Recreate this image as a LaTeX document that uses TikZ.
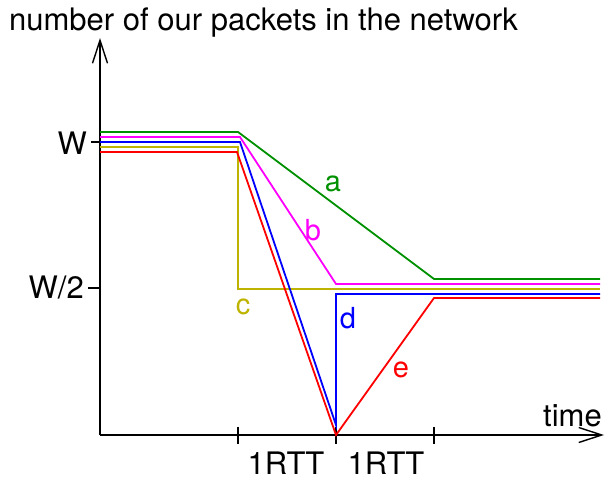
\documentclass[tikz,border=0pt]{standalone}
\usepackage{fontspec}
\setmainfont{TeX Gyre Heros}
\usetikzlibrary{arrows.meta}
\definecolor{cgreen}{RGB}{0,145,0}
\definecolor{cmag}{RGB}{255,0,255}
\definecolor{cblue}{RGB}{0,0,255}
\definecolor{colive}{RGB}{190,180,0}
\definecolor{cred}{RGB}{255,0,0}
\tikzset{
  axis/.style={draw=black, line width=1.4pt, -{Straight Barb[length=23pt,width=15pt,line width=1.4pt]}},
  tickline/.style={draw=black, line width=1.4pt},
  curve/.style={line width=1.8pt, line join=miter},
  lbl/.style={inner sep=0pt, font=\fontsize{31}{36}\selectfont},
  letter/.style={inner sep=0pt, font=\fontsize{29}{34}\selectfont},
}
\begin{document}
\begin{tikzpicture}[x=1pt,y=-1pt]
\useasboundingbox (0,0) rectangle (606,481);
% axes
\coordinate (O) at (100,435);
\coordinate (ytop) at (100,38);
\coordinate (xend) at (604,435);
\draw[axis] (O) -- (ytop);
\draw[axis] (O) -- (xend);
% ticks
\draw[tickline] (91,142) -- (110,142);
\draw[tickline] (88,288) -- (100,288);
\draw[tickline] (238,427) -- (238,444);
\draw[tickline] (336,427) -- (336,444);
\draw[tickline] (434,427) -- (434,444);
% curves
\draw[curve, cgreen] (100,132) -- (238,132) -- (434,279) -- (600,279);
\draw[curve, cmag] (100,137) -- (240,137) -- (336,284) -- (600,284);
\draw[curve, colive] (100,147) -- (238,147) -- (238,289) -- (600,289);
\draw[curve, cblue] (100,142) -- (240,142) -- (336,425) -- (336,294) -- (600,294);
\draw[curve, cred] (100,152) -- (237,152) -- (336,435) -- (434,298) -- (600,298);
% texts
\node[lbl, anchor=base west] (title) at (9,31) {number of our packets in the network};
\node[lbl, anchor=east] (W) at (87,143) {W};
\node[lbl, anchor=east] (W2) at (84,288) {W/2};
\node[lbl, anchor=base east] (time) at (602,427) {time};
\node[lbl, anchor=base] (rtt1) at (286,475) {1RTT};
\node[lbl, anchor=base] (rtt2) at (386,475) {1RTT};
\node[letter, anchor=base, text=cgreen] (la) at (333,192) {a};
\node[letter, anchor=base, text=cmag] (lb) at (313,241) {b};
\node[letter, anchor=base, text=colive] (lc) at (243,315) {c};
\node[letter, anchor=base, text=cblue] (ld) at (348,329) {d};
\node[letter, anchor=base, text=cred] (le) at (401,378) {e};
\end{tikzpicture}
\end{document}
